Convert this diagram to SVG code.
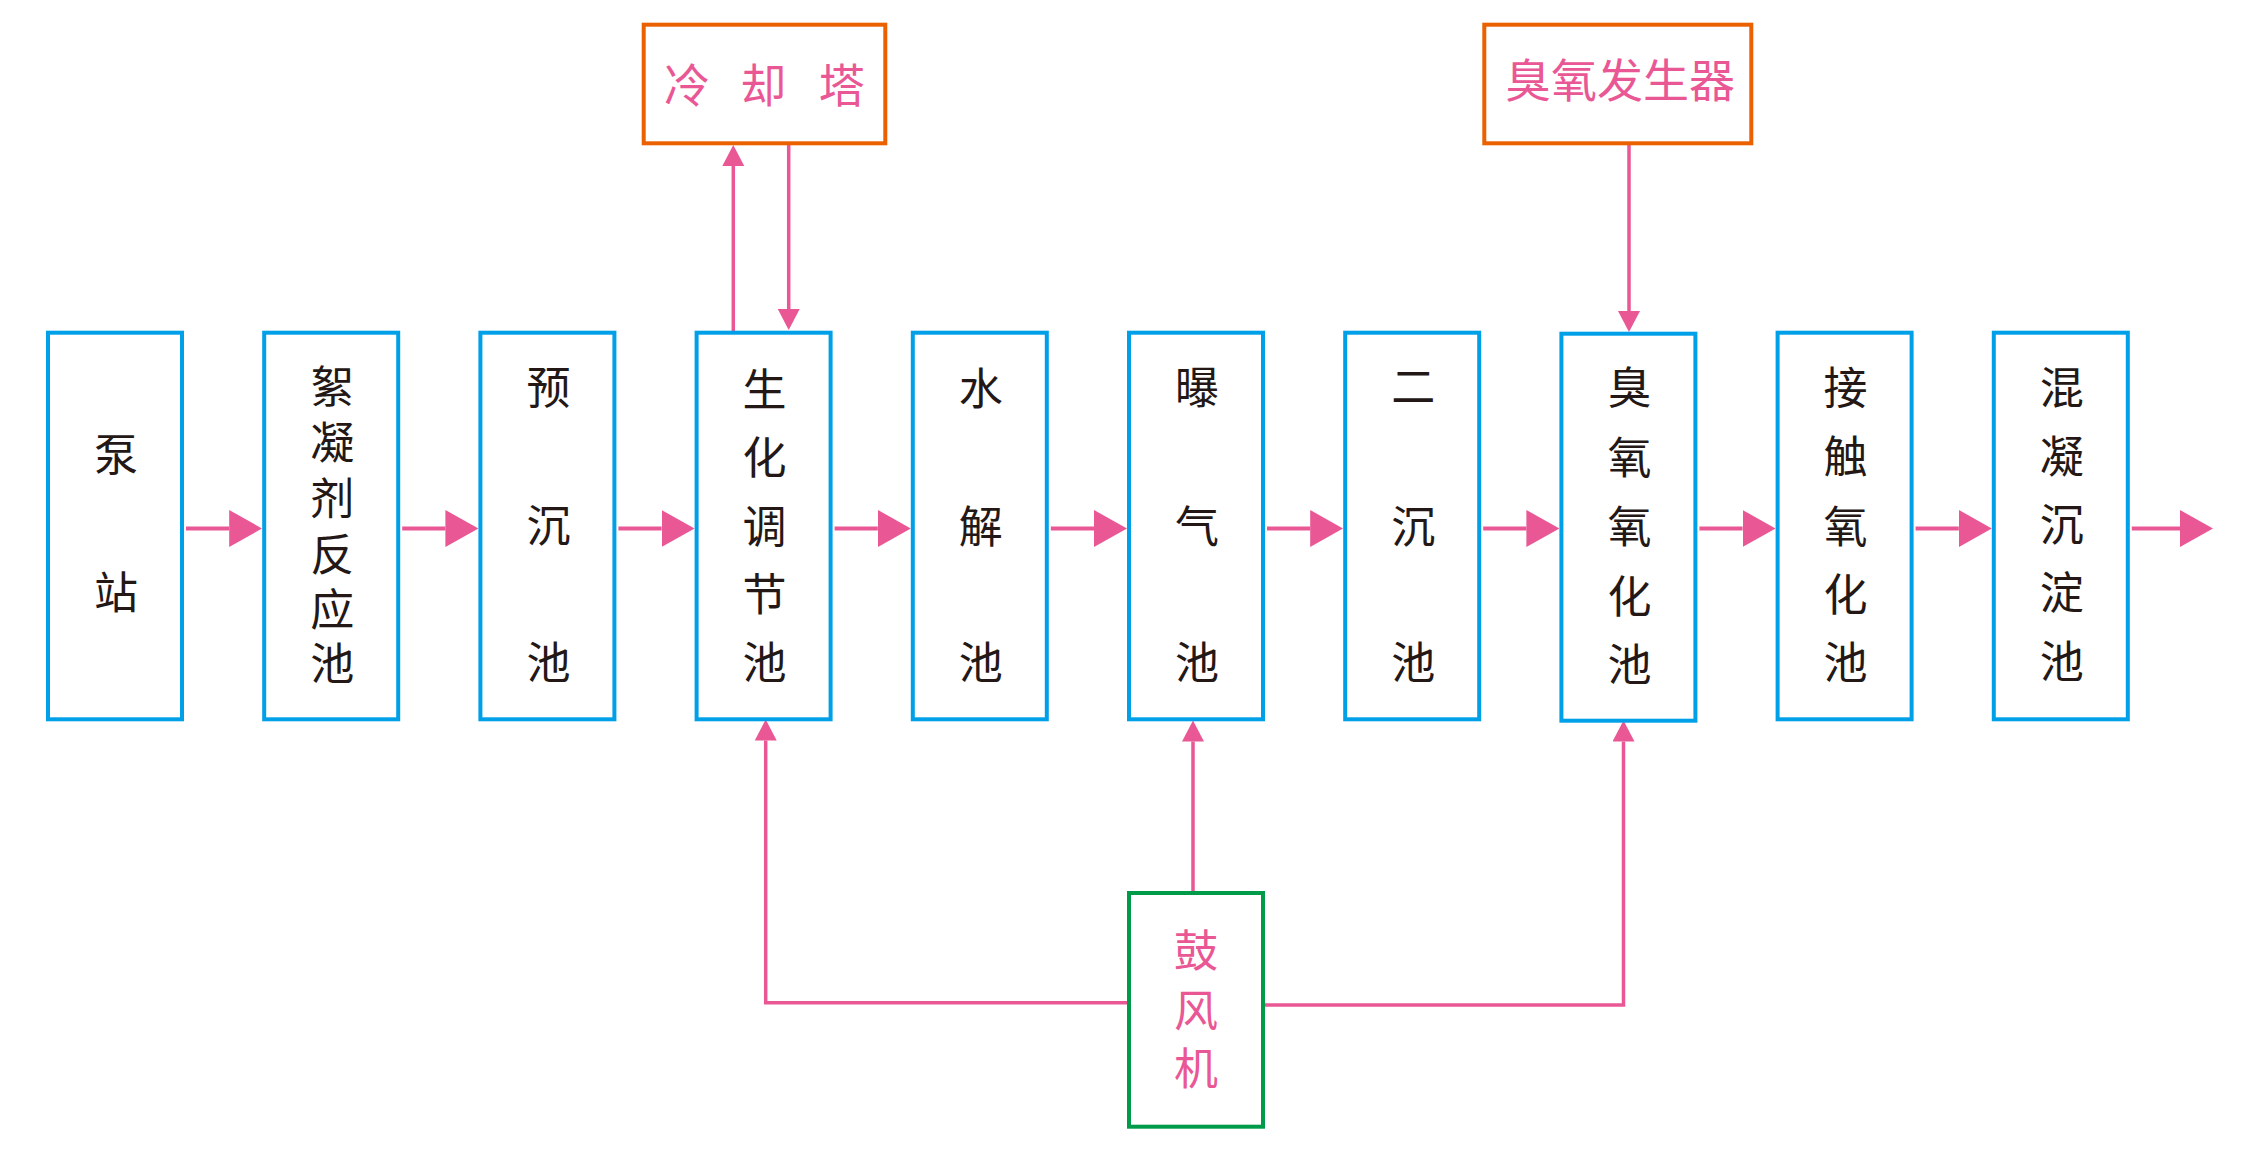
<svg xmlns="http://www.w3.org/2000/svg" width="2244" height="1162" viewBox="0 0 2244 1162">
<style>
.pool{fill:#fff;stroke:#00A0E9;stroke-width:4}
.aux{fill:#fff;stroke:#EB6100;stroke-width:4}
.fan{fill:#fff;stroke:#009B48;stroke-width:4}
.t{font-family:"Noto Sans CJK SC","Noto Sans",sans-serif;font-size:44px;fill:#231815;text-anchor:middle;dominant-baseline:central}
.tp{font-family:"Noto Sans CJK SC","Noto Sans",sans-serif;font-size:46px;fill:#E95895;text-anchor:middle;dominant-baseline:central}
.c{fill:none;stroke:#E95895;stroke-width:4}
.cs{fill:none;stroke:#E95895;stroke-width:3.5}
</style>
<defs>
<marker id="big" viewBox="0 0 33 37" refX="0" refY="18.5" markerWidth="33" markerHeight="37" markerUnits="userSpaceOnUse" orient="auto"><path d="M0,0 L33,18.5 L0,37 Z" fill="#E95895"/></marker>
<marker id="small" viewBox="0 0 21 22" refX="0" refY="11" markerWidth="21" markerHeight="22" markerUnits="userSpaceOnUse" orient="auto"><path d="M0,0 L21,11 L0,22 Z" fill="#E95895"/></marker>
</defs>
<rect width="2244" height="1162" fill="#fff"/>
<g id="connectors">
<line class="c" x1="186" y1="528.5" x2="229.2" y2="528.5" marker-end="url(#big)"/>
<line class="c" x1="402.2" y1="528.5" x2="445.4" y2="528.5" marker-end="url(#big)"/>
<line class="c" x1="618.4" y1="528.5" x2="661.6" y2="528.5" marker-end="url(#big)"/>
<line class="c" x1="834.6" y1="528.5" x2="877.8" y2="528.5" marker-end="url(#big)"/>
<line class="c" x1="1050.8" y1="528.5" x2="1094" y2="528.5" marker-end="url(#big)"/>
<line class="c" x1="1267" y1="528.5" x2="1310.2" y2="528.5" marker-end="url(#big)"/>
<line class="c" x1="1483.2" y1="528.5" x2="1526.4" y2="528.5" marker-end="url(#big)"/>
<line class="c" x1="1699.4" y1="528.5" x2="1742.6" y2="528.5" marker-end="url(#big)"/>
<line class="c" x1="1915.6" y1="528.5" x2="1958.8" y2="528.5" marker-end="url(#big)"/>
<line class="c" x1="2131.8" y1="528.5" x2="2180" y2="528.5" marker-end="url(#big)"/>
<line class="cs" x1="733.3" y1="331" x2="733.3" y2="166" marker-end="url(#small)"/>
<line class="cs" x1="788.7" y1="145" x2="788.7" y2="309" marker-end="url(#small)"/>
<line class="cs" x1="1629" y1="145" x2="1629" y2="311" marker-end="url(#small)"/>
<line class="cs" x1="1193" y1="891" x2="1193" y2="741.5" marker-end="url(#small)"/>
<polyline class="cs" points="1127,1002.7 765.7,1002.7 765.7,740.5" marker-end="url(#small)"/>
<polyline class="cs" points="1265,1005 1623.5,1005 1623.5,741.5" marker-end="url(#small)"/>
</g>
<g id="n1"><rect class="pool" x="48" y="332.7" width="134" height="386.6"/><text class="t"><tspan x="116" y="452.3">泵</tspan><tspan x="116" y="590.3">站</tspan></text></g>
<g id="n2"><rect class="pool" x="264.2" y="332.7" width="134" height="386.6"/><text class="t"><tspan x="332.2" y="384.3">絮</tspan><tspan x="332.2" y="440.3">凝</tspan><tspan x="332.2" y="496">剂</tspan><tspan x="332.2" y="552">反</tspan><tspan x="332.2" y="606.5">应</tspan><tspan x="332.2" y="661.3">池</tspan></text></g>
<g id="n3"><rect class="pool" x="480.4" y="332.7" width="134" height="386.6"/><text class="t"><tspan x="548.4" y="385.3">预</tspan><tspan x="548.4" y="522.5">沉</tspan><tspan x="548.4" y="660.3">池</tspan></text></g>
<g id="n4"><rect class="pool" x="696.6" y="332.7" width="134" height="386.6"/><text class="t"><tspan x="764.6" y="387">生</tspan><tspan x="764.6" y="455.3">化</tspan><tspan x="764.6" y="523.7">调</tspan><tspan x="764.6" y="592">节</tspan><tspan x="764.6" y="660.3">池</tspan></text></g>
<g id="n5"><rect class="pool" x="912.8" y="332.7" width="134" height="386.6"/><text class="t"><tspan x="980.8" y="385.5">水</tspan><tspan x="980.8" y="523.7">解</tspan><tspan x="980.8" y="660.3">池</tspan></text></g>
<g id="n6"><rect class="pool" x="1129" y="332.7" width="134" height="386.6"/><text class="t"><tspan x="1197" y="385">曝</tspan><tspan x="1197" y="523.7">气</tspan><tspan x="1197" y="660.3">池</tspan></text></g>
<g id="n7"><rect class="pool" x="1345.2" y="332.7" width="134" height="386.6"/><text class="t"><tspan x="1413.2" y="383.7">二</tspan><tspan x="1413.2" y="524">沉</tspan><tspan x="1413.2" y="660.3">池</tspan></text></g>
<g id="n8"><rect class="pool" x="1561.4" y="333.7" width="134" height="387"/><text class="t"><tspan x="1629.4" y="385.3">臭</tspan><tspan x="1629.4" y="455.3">氧</tspan><tspan x="1629.4" y="523.7">氧</tspan><tspan x="1629.4" y="593.7">化</tspan><tspan x="1629.4" y="662">池</tspan></text></g>
<g id="n9"><rect class="pool" x="1777.6" y="332.7" width="134" height="386.6"/><text class="t"><tspan x="1845.6" y="385">接</tspan><tspan x="1845.6" y="453.7">触</tspan><tspan x="1845.6" y="523.7">氧</tspan><tspan x="1845.6" y="592">化</tspan><tspan x="1845.6" y="660.3">池</tspan></text></g>
<g id="n10"><rect class="pool" x="1993.8" y="332.7" width="134" height="386.6"/><text class="t"><tspan x="2061.8" y="385">混</tspan><tspan x="2061.8" y="453.7">凝</tspan><tspan x="2061.8" y="522">沉</tspan><tspan x="2061.8" y="590.3">淀</tspan><tspan x="2061.8" y="658.7">池</tspan></text></g>
<g id="cooling-tower"><rect class="aux" x="643.7" y="24.7" width="241.6" height="118.6"/><text class="tp" y="81.5"><tspan x="687">冷</tspan><tspan x="725"> </tspan><tspan x="763.3">却</tspan><tspan x="802"> </tspan><tspan x="841.7">塔</tspan></text></g>
<g id="ozone-generator"><rect class="aux" x="1484.3" y="24.7" width="267" height="118.6"/><text class="tp" x="1620" y="76.5">臭氧发生器</text></g>
<g id="blower"><rect class="fan" x="1129" y="893" width="134" height="233.7"/><text class="tp" style="font-size:44px"><tspan x="1196" y="948">鼓</tspan><tspan x="1196" y="1007.5">风</tspan><tspan x="1196" y="1066">机</tspan></text></g>
</svg>
